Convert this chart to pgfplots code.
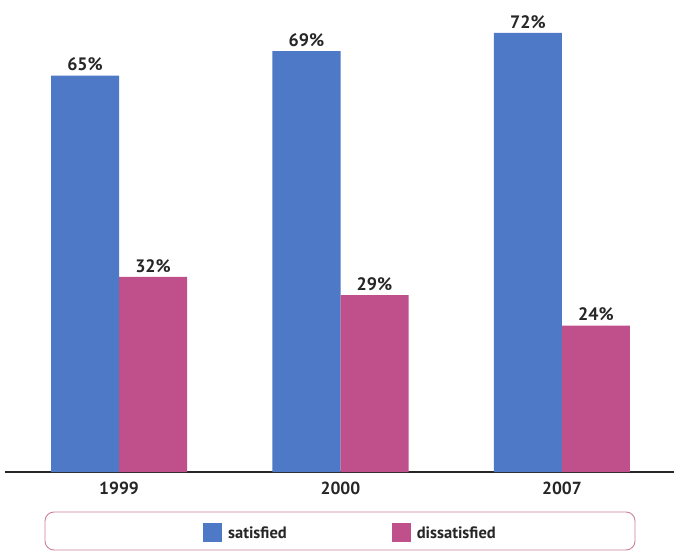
\documentclass[border=0pt]{standalone}
\usepackage{fontspec}
\setmainfont{PT Sans}
\usepackage{pgfplots}
\pgfplotsset{compat=1.18}
\definecolor{sat}{RGB}{78,121,198}
\definecolor{dis}{RGB}{192,80,140}
\definecolor{legb}{RGB}{205,130,160}
\begin{document}
\begin{tikzpicture}[x=1pt,y=1pt]
\path[use as bounding box, fill=white] (0,0) rectangle (674,554);
\draw[legb, line width=0.9pt, rounded corners=9pt] (45,42) rectangle (635,4);
\begin{axis}[
  at={(5pt,82pt)}, anchor=south west,
  scale only axis, width=669pt, height=472pt,
  xmin=-0.515, xmax=2.506, ymin=0, ymax=77.4,
  ybar, bar width=68pt,
  axis x line=bottom, axis y line=none,
  x axis line style={line width=1.6pt, black!85, -},
  xtick=data, xticklabels={1999,2000,2007},
  ytick=\empty,
  tick style={draw=none},
  xticklabel style={font=\fontsize{17.5}{20}\selectfont\bfseries, text=black!85, yshift=-4pt},
  nodes near coords={\pgfmathprintnumber[assume math mode=true]{\pgfplotspointmeta}\%},
  nodes near coords style={font=\fontsize{18}{20}\selectfont\bfseries, text=black!85, yshift=1pt},
  legend columns=2,
  legend style={at={(0.5164,-0.129)}, anchor=center, draw=none, fill=none,
    font=\fontsize{16.5}{20}\selectfont\bfseries, text=black!85,
    /tikz/every even column/.append style={column sep=103pt}},
  legend image code/.code={\fill[#1] (0pt,-9.5pt) rectangle (19pt,9.5pt); \path (23pt,0pt);},
  clip=false,
]
\addplot[fill=sat, draw=none, bar shift=-34pt] coordinates {(0,65) (1,69) (2,72)};
\addplot[fill=dis, draw=none, bar shift=34pt] coordinates {(0,32) (1,29) (2,24)};
\legend{satisfied, dissatisfied}
\end{axis}
\end{tikzpicture}
\end{document}
